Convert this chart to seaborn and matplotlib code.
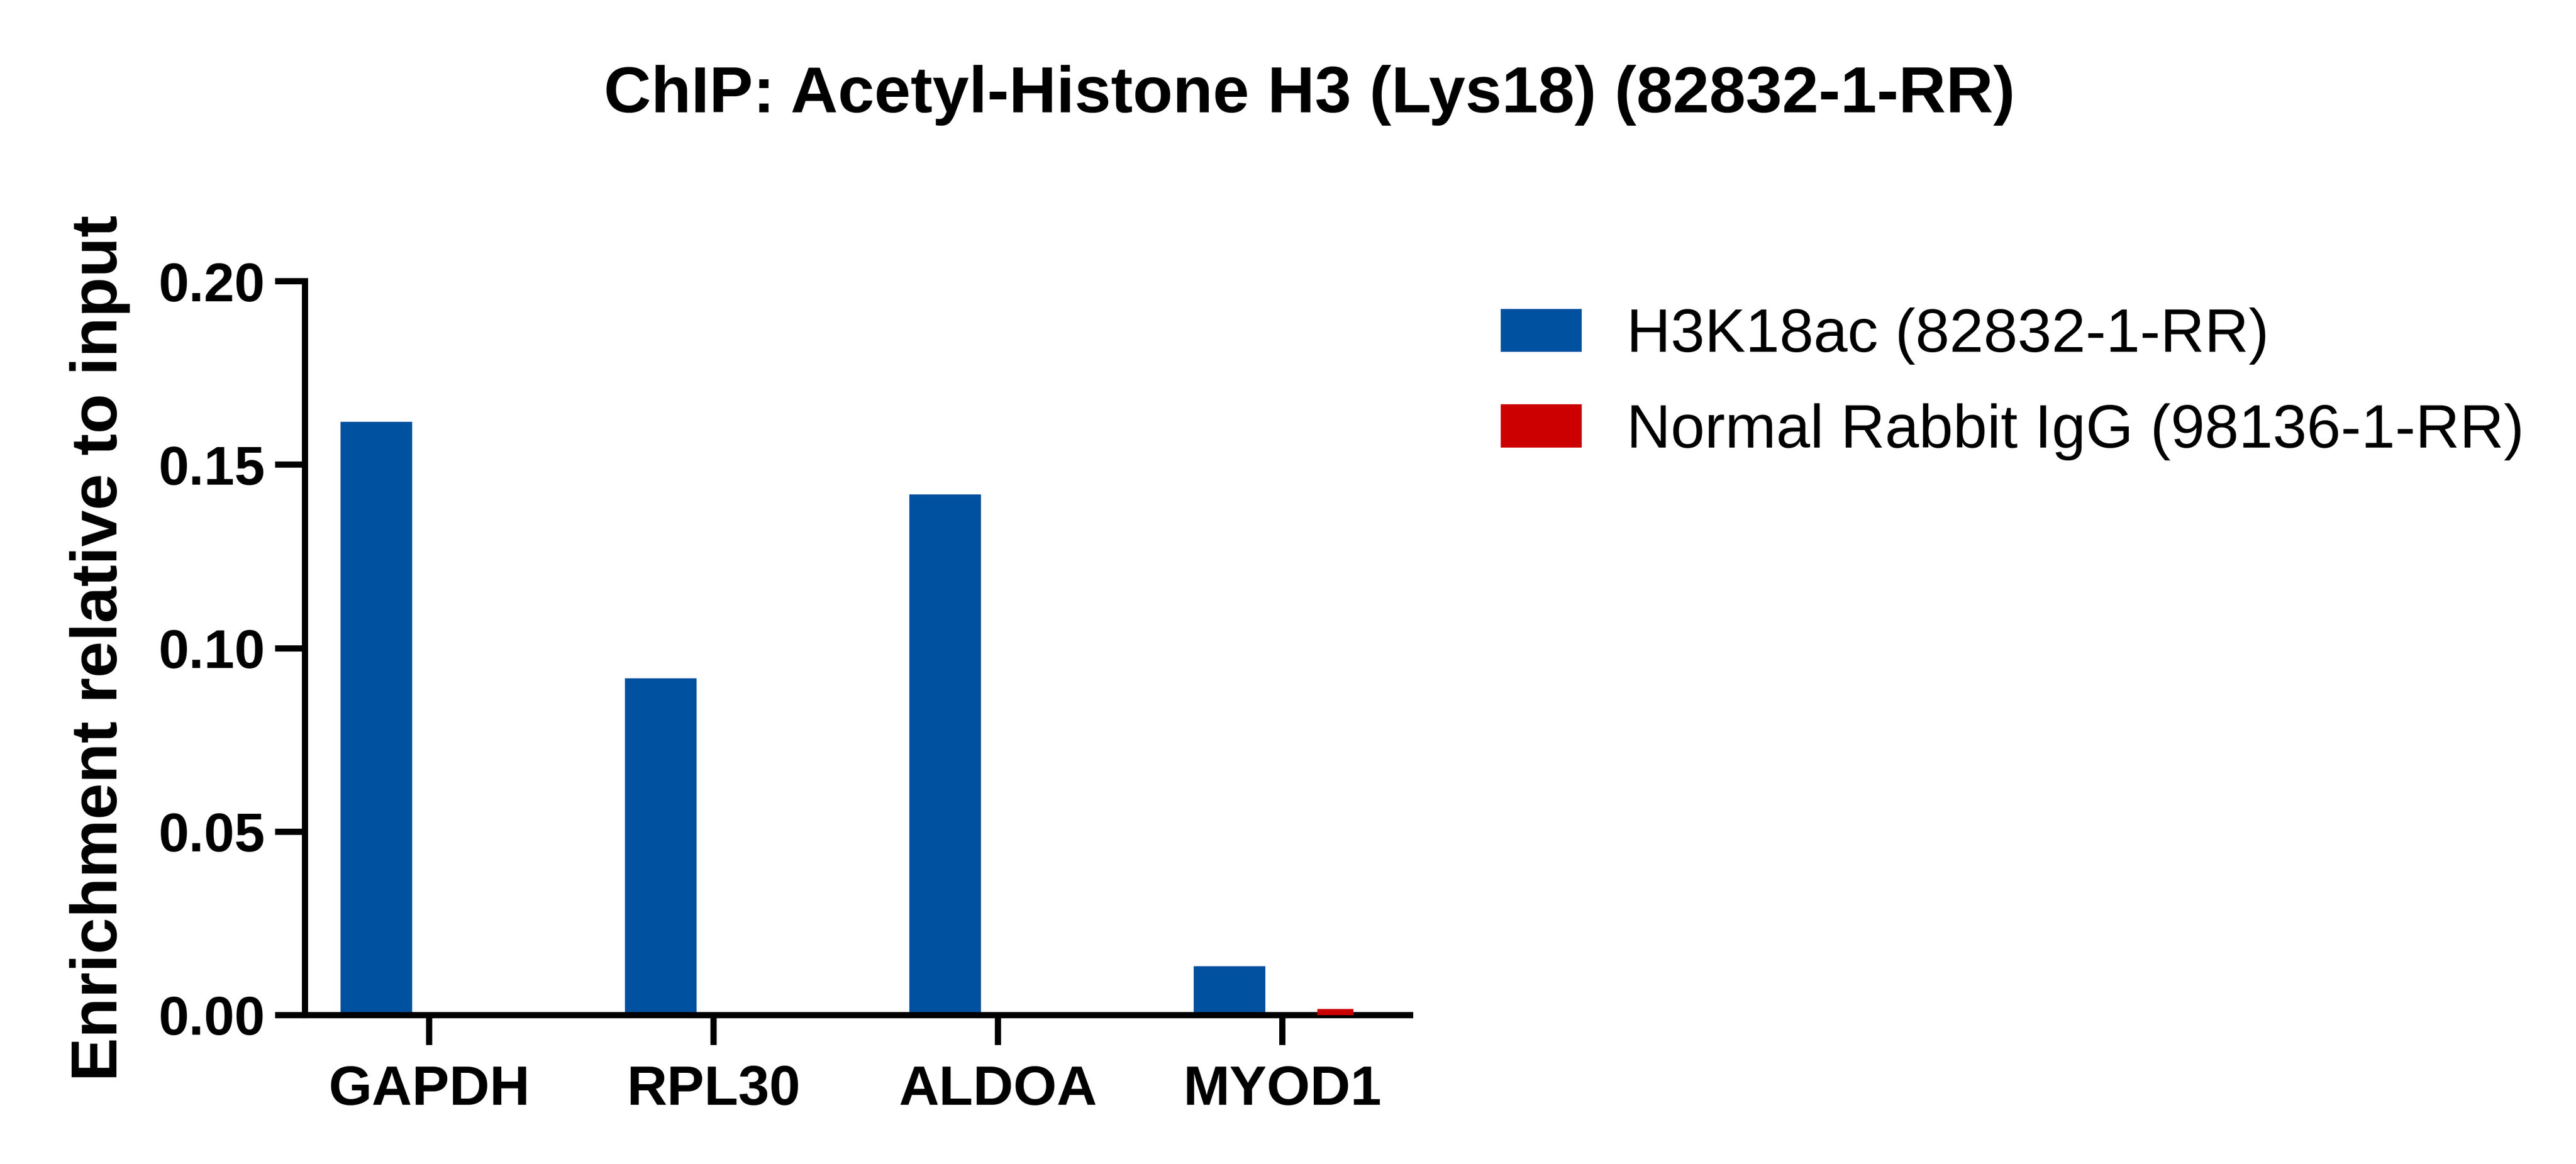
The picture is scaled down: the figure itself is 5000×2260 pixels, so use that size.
import matplotlib
matplotlib.use("Agg")
import matplotlib.pyplot as plt
import seaborn as sns
import pandas as pd
from matplotlib.ticker import FormatStrFormatter

# ---- data ----
genes = ["GAPDH", "RPL30", "ALDOA", "MYOD1"]
h3k18ac = [0.1617, 0.0918, 0.1419, 0.0133]
igg = [0.0, 0.0, 0.0, 0.0017]
series_names = ["H3K18ac (82832-1-RR)", "Normal Rabbit IgG (98136-1-RR)"]
series_colors = ["#0051A0", "#CC0000"]
yticks = [0.00, 0.05, 0.10, 0.15, 0.20]
title = "ChIP: Acetyl-Histone H3 (Lys18) (82832-1-RR)"
ylabel = "Enrichment relative to input"

df = pd.DataFrame({
    "gene": genes * 2,
    "value": h3k18ac + igg,
    "series": [series_names[0]] * len(genes) + [series_names[1]] * len(genes),
})

sns.set_style("ticks")
plt.rcParams["font.family"] = ["Liberation Sans", "DejaVu Sans"]
for k in ["text.color", "axes.labelcolor", "xtick.color", "ytick.color", "axes.edgecolor"]:
    plt.rcParams[k] = "black"

W, H, DPI = 5000, 2260, 300
fig = plt.figure(figsize=(W / DPI, H / DPI), dpi=DPI)
ax = fig.add_axes([592 / W, 1 - 1971 / H, (2737 - 592) / W, (1971 - 546) / H])

sns.barplot(data=df, x="gene", y="value", hue="series", order=genes,
            hue_order=series_names, palette=dict(zip(series_names, series_colors)),
            width=0.744, gap=0.323, saturation=1, legend=False, ax=ax,
            edgecolor="none", linewidth=0)

# IgG bars drawn narrower and above the spine, as in the reference
for p in ax.containers[1].patches:
    cx = p.get_x() + p.get_width() / 2
    w = p.get_width() / 2
    p.set_x(cx - w / 2)
    p.set_width(w)
    p.set_zorder(3)
    p.set_clip_on(False)

ax.set_xlim(-0.437, 3.449)
ax.set_ylim(0, 0.20)
ax.set_yticks(yticks)
ax.yaxis.set_major_formatter(FormatStrFormatter("%.2f"))
ax.set_xlabel("")
ax.set_ylabel(ylabel, fontsize=30.5, fontweight="bold", labelpad=13, color="black")

for s in ["top", "right"]:
    ax.spines[s].set_visible(False)
for s in ["left", "bottom"]:
    ax.spines[s].set_linewidth(2.9)
    ax.spines[s].set_color("black")

ax.tick_params(axis="both", direction="out", length=14, width=2.9, color="black",
               labelcolor="black")
ax.tick_params(axis="x", labelsize=26, pad=9)
ax.tick_params(axis="y", labelsize=25.5, pad=4.6)
for lab in ax.get_xticklabels() + ax.get_yticklabels():
    lab.set_fontweight("bold")

fig.text(2542 / W, 1 - 218 / H, title, ha="center", va="baseline",
         fontsize=30.5, fontweight="bold", color="black")

leg = ax.legend(handles=[plt.Rectangle((0, 0), 1, 1, color=c) for c in series_colors],
                labels=series_names, loc="upper left",
                bbox_to_anchor=(2915 / W, 1 - 597 / H), bbox_transform=fig.transFigure,
                frameon=False, borderpad=0, borderaxespad=0, fontsize=28.5,
                handlelength=1.29, handleheight=0.65, handletextpad=0.75,
                labelspacing=0.63)
for t in leg.get_texts():
    t.set_color("black")

fig.savefig("out.png", dpi=DPI)
